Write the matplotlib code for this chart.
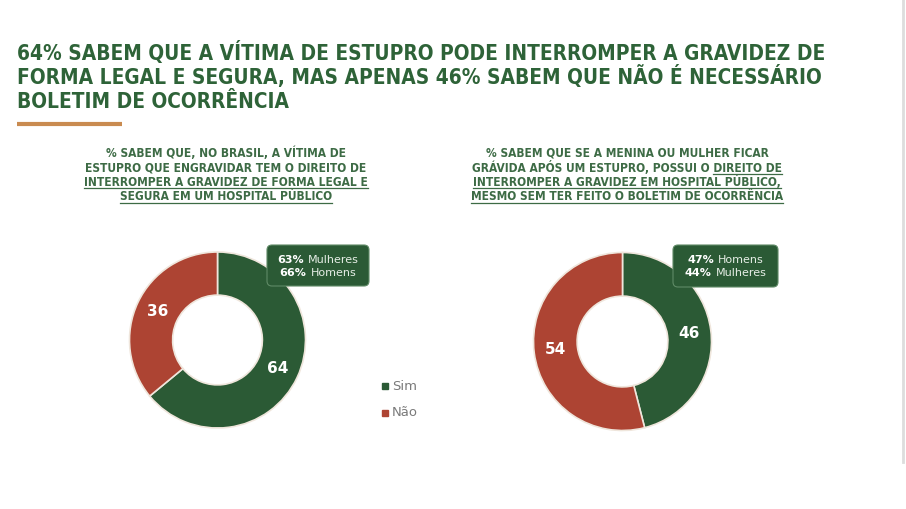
from matplotlib import pyplot as plt
from matplotlib.patches import FancyBboxPatch

plt.rcParams["font.family"] = ["DejaVu Sans"]

W, H = 906, 509
verde = "#2b5a35"
vermelho = "#ad4433"
cor_titulo = "#2e6338"
cor_sub = "#3d6b45"

# dados
categorias = ["Sim", "Não"]
valores_esq = [64, 36]
valores_dir = [46, 54]
caixa_esq = [("63%", "Mulheres"), ("66%", "Homens")]
caixa_dir = [("47%", "Homens"), ("44%", "Mulheres")]

titulo = ["64% SABEM QUE A VÍTIMA DE ESTUPRO PODE INTERROMPER A GRAVIDEZ DE",
          "FORMA LEGAL E SEGURA, MAS APENAS 46% SABEM QUE NÃO É NECESSÁRIO",
          "BOLETIM DE OCORRÊNCIA"]
# (parte normal, parte sublinhada)
sub_esq = [("% SABEM QUE, NO BRASIL, A VÍTIMA DE", ""),
           ("ESTUPRO QUE ENGRAVIDAR TEM O DIREITO DE", ""),
           ("", "INTERROMPER A GRAVIDEZ DE FORMA LEGAL E"),
           ("", "SEGURA EM UM HOSPITAL PÚBLICO")]
sub_dir = [("% SABEM QUE SE A MENINA OU MULHER FICAR", ""),
           ("GRÁVIDA APÓS UM ESTUPRO, POSSUI O ", "DIREITO DE"),
           ("", "INTERROMPER A GRAVIDEZ EM HOSPITAL PÚBLICO,"),
           ("", "MESMO SEM TER FEITO O BOLETIM DE OCORRÊNCIA")]

fig = plt.figure(figsize=(W / 100, H / 100), dpi=100)
fig.patch.set_facecolor("white")
r = fig.canvas.get_renderer()


def donut(cx, cy, raio, valores):
    ax = fig.add_axes([(cx - raio) / W, 1 - (cy + raio) / H, 2 * raio / W, 2 * raio / H])
    ax.pie(valores, colors=[verde, vermelho], startangle=90, counterclock=False,
           radius=1, wedgeprops=dict(width=0.49, edgecolor="#efe6dc", linewidth=1.2),
           autopct=lambda p: f"{p:.0f}", pctdistance=0.755,
           textprops=dict(color="white", fontsize=11, fontweight="bold"))
    ax.set_xlim(-1, 1)
    ax.set_ylim(-1, 1)
    return ax


donut(217.5, 340, 88, valores_esq)
donut(622.5, 341.5, 89, valores_dir)

# camada de texto por cima
tx = fig.add_axes([0, 0, 1, 1])
tx.set_xlim(0, W)
tx.set_ylim(H, 0)
tx.axis("off")
tx.patch.set_alpha(0)


def largura(s, **kw):
    t = tx.text(0, 0, s, **kw)
    w = t.get_window_extent(r).width
    t.remove()
    return w


# titulo
kw_t = dict(fontweight="bold", fontstretch="condensed", color=cor_titulo)
fs = 15 * 811 / largura(titulo[0], fontsize=15, **kw_t)
for i, linha in enumerate(titulo):
    tx.text(17, 60 + i * 24, linha, fontsize=fs, va="baseline", ha="left", **kw_t)
tx.plot([17, 122], [124, 124], color="#c98b50", lw=3, solid_capstyle="butt")

# subtitulos
kw_s = dict(fontweight="bold", fontstretch="condensed", color=cor_sub)
fs_s = 9 * 241 / largura(sub_esq[0][0], fontsize=9, **kw_s)


def subtitulo(cx, linhas):
    for i, (a, b) in enumerate(linhas):
        y = 157 + i * 14.5
        wt = largura(a + b, fontsize=fs_s, **kw_s)
        tx.text(cx, y, a + b, fontsize=fs_s, ha="center", va="baseline", **kw_s)
        if b:
            wb = largura(b, fontsize=fs_s, **kw_s)
            x1 = cx + wt / 2
            tx.plot([x1 - wb, x1], [y + 2.2, y + 2.2], color=cor_sub, lw=0.9)


subtitulo(226, sub_esq)
subtitulo(627, sub_dir)


def caixa(x0, y0, w, h, linhas):
    tx.add_patch(FancyBboxPatch((x0, y0), w, h, boxstyle="round,pad=0,rounding_size=5",
                                facecolor=verde, edgecolor="#5f8a66", lw=0.8))
    cx = x0 + w / 2
    for i, (pct, nome) in enumerate(linhas):
        y = y0 + 15 + i * 13
        wa = largura(pct + " ", fontsize=8, fontweight="bold")
        wb = largura(nome, fontsize=8)
        xs = cx - (wa + wb) / 2
        tx.text(xs, y, pct, fontsize=8, fontweight="bold", color="white", va="center")
        tx.text(xs + wa, y, nome, fontsize=8, color="#e6eee6", va="center")


caixa(267, 245, 102, 41, caixa_esq)
caixa(673, 245, 105, 42, caixa_dir)

# legenda
for i, (nome, cor) in enumerate(zip(categorias, [verde, vermelho])):
    y = 386 + i * 27
    tx.plot(385, y, marker="s", ms=4.5, color=cor, ls="")
    tx.text(392, y, nome, fontsize=9.5, color="#7a7a7a", va="center")

# borda direita da captura
tx.plot([903, 903], [0, 462], color="#dddddd", lw=2)

fig.savefig("out.png", dpi=100)
